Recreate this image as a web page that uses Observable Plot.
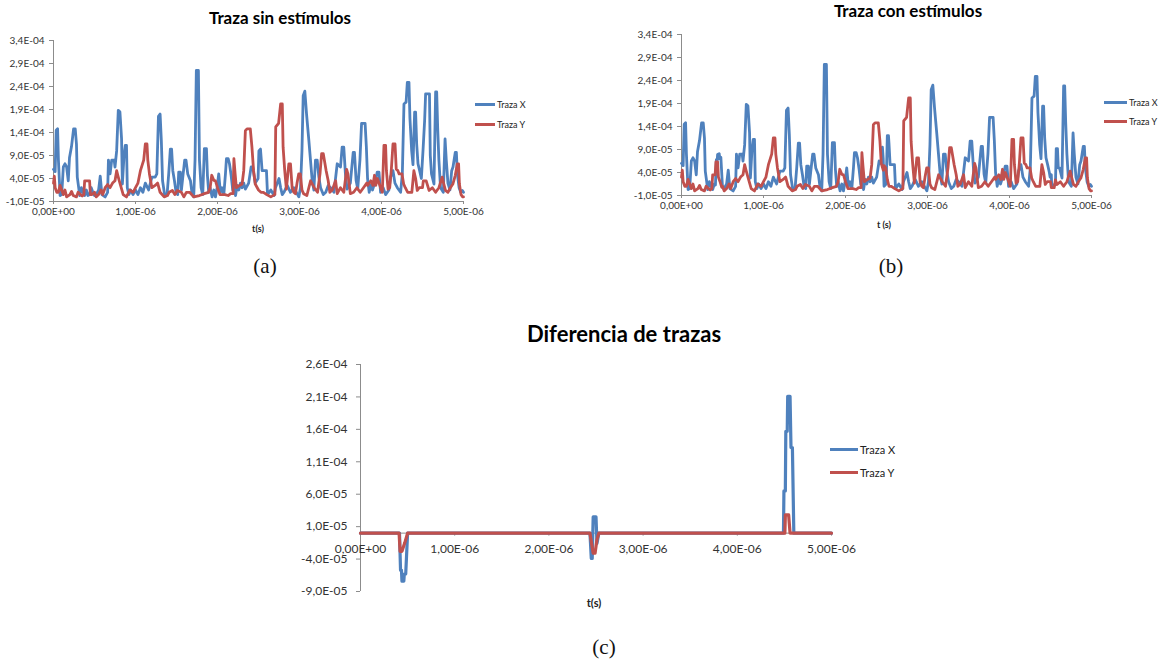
<!DOCTYPE html>
<html><head><meta charset="utf-8">
<script src="https://cdn.jsdelivr.net/npm/d3@7"></script>
<script src="https://cdn.jsdelivr.net/npm/@observablehq/plot@0.6"></script>
<style>
body{margin:0;background:#fff;}
#page{position:relative;width:1165px;height:665px;overflow:hidden;font-family:Lato,"Open Sans",sans-serif;}
.abs{position:absolute;white-space:nowrap;}
.c{transform:translate(-50%,-50%);}
.l{transform:translate(0,-50%);}
</style></head>
<body><div id="page"></div>
<script>
// time in microseconds, value in units of 1e-5
const sinX = [[0,6],[0.02,5.5],[0.033,14.5],[0.05,14.8],[0.06,8],[0.08,0.3],[0.10,0.5],[0.12,6.5],[0.14,7.2],[0.16,6.5],[0.18,3.5],[0.195,8.5],[0.22,11],[0.245,14.8],[0.265,14.8],[0.28,11.5],[0.29,4.3],[0.32,0.3],[0.34,2],[0.36,1],[0.38,0.3],[0.40,1.5],[0.42,0.3],[0.44,0.5],[0.46,2],[0.48,1],[0.50,0.3],[0.52,0.5],[0.55,1.5],[0.57,4.5],[0.59,0.5],[0.63,0],[0.66,1],[0.67,8],[0.69,5],[0.71,8],[0.74,8],[0.75,6.5],[0.77,10],[0.79,18.8],[0.81,18.5],[0.83,12.6],[0.84,2.8],[0.86,9],[0.875,11.2],[0.89,11.2],[0.90,2],[0.92,0.5],[0.94,1.5],[0.97,0.5],[1.0,1.5],[1.03,0.5],[1.06,2],[1.09,1],[1.12,3],[1.16,1.5],[1.20,4.3],[1.24,4.3],[1.26,5],[1.28,17.5],[1.30,18],[1.315,12.3],[1.33,3.5],[1.355,0.5],[1.385,0.5],[1.405,5],[1.425,10.4],[1.44,10.4],[1.455,5.7],[1.475,3.5],[1.495,1],[1.515,0.5],[1.527,5.4],[1.547,5.4],[1.56,1.5],[1.575,4],[1.60,8],[1.616,8],[1.637,5],[1.67,3.5],[1.69,0.7],[1.71,0],[1.726,8],[1.742,27.5],[1.767,27.5],[1.78,8],[1.80,2],[1.82,0.5],[1.84,10.5],[1.865,10.5],[1.877,4.7],[1.893,1],[1.91,2],[1.934,0],[1.955,1.5],[1.975,0],[1.995,2],[2.015,5],[2.035,1],[2.055,2],[2.077,0.5],[2.097,5],[2.109,8.3],[2.13,8.3],[2.146,7.2],[2.166,4.7],[2.186,1.5],[2.20,3],[2.22,0.3],[2.24,2.5],[2.26,1.5],[2.28,3],[2.30,2],[2.32,3],[2.34,1.7],[2.38,3],[2.41,6.5],[2.43,6.5],[2.46,3],[2.495,4],[2.505,10],[2.524,10.4],[2.544,5.7],[2.597,5.7],[2.61,0.5],[2.65,1.5],[2.69,0.3],[2.707,2],[2.75,4],[2.77,2],[2.79,0.5],[2.81,1],[2.85,2.5],[2.89,1],[2.93,2],[2.97,0.7],[2.992,0],[3.012,2],[3.03,10],[3.045,22],[3.065,23],[3.086,18],[3.114,12.3],[3.134,8],[3.155,3.5],[3.175,1.5],[3.195,8],[3.216,8],[3.236,4.3],[3.257,2],[3.29,0.5],[3.32,1],[3.35,2.5],[3.38,2],[3.42,1],[3.46,7.2],[3.50,6.5],[3.52,10.8],[3.54,10.8],[3.56,5],[3.58,1.7],[3.62,3],[3.655,9.7],[3.67,9.7],[3.69,3.6],[3.71,1.7],[3.737,8],[3.757,16],[3.80,16],[3.815,11],[3.83,4],[3.85,1],[3.867,2.5],[3.89,1.5],[3.908,2.5],[3.928,3.6],[3.948,5.4],[3.969,5.4],[3.989,1],[4.02,2],[4.05,0.5],[4.09,1.5],[4.11,4.3],[4.14,5.7],[4.164,3],[4.193,2],[4.233,1],[4.254,5],[4.274,20.2],[4.30,20.6],[4.315,24.9],[4.335,24.9],[4.347,17],[4.368,10],[4.384,7],[4.404,18.4],[4.416,18.4],[4.429,11.5],[4.445,7.2],[4.465,5.7],[4.486,4],[4.506,10],[4.526,16.6],[4.538,22.4],[4.585,22.4],[4.595,9],[4.61,5],[4.64,2.8],[4.66,22.8],[4.673,22.8],[4.685,15],[4.70,8],[4.72,2],[4.754,1],[4.775,12.6],[4.79,8],[4.81,3],[4.835,1.5],[4.856,5.7],[4.872,6.5],[4.90,9.7],[4.913,9.7],[4.925,5],[4.946,2],[4.966,1],[4.986,1.4],[5.0,1]];

const sinY = [[0,3],[0.01,4.5],[0.02,2],[0.04,1],[0.06,1],[0.08,2.5],[0.10,1.5],[0.12,0.5],[0.14,1.5],[0.16,0],[0.2,0.5],[0.22,1.2],[0.24,0.3],[0.28,0],[0.30,1],[0.33,0.5],[0.35,0.2],[0.37,0.5],[0.38,3.5],[0.44,3.5],[0.45,0.5],[0.47,0.5],[0.5,1],[0.52,0],[0.55,0.5],[0.58,1.5],[0.6,0.5],[0.63,2],[0.66,2.7],[0.69,2],[0.72,3],[0.75,3.5],[0.77,5.7],[0.79,4.3],[0.81,3],[0.85,0.5],[0.89,0],[0.93,1.5],[0.97,1],[1.0,2],[1.03,3],[1.06,5.7],[1.10,8],[1.12,11.5],[1.14,11.5],[1.15,8],[1.17,5],[1.2,2],[1.24,2.5],[1.27,3],[1.30,1],[1.35,0],[1.39,0.3],[1.41,1],[1.45,1.4],[1.48,0.5],[1.51,1.4],[1.56,1],[1.59,0],[1.62,1],[1.66,1],[1.71,0],[1.78,0.3],[1.84,0.7],[1.89,1],[1.91,2],[1.93,4.7],[1.955,3.6],[1.975,3.5],[2.0,2],[2.03,0.5],[2.09,0.5],[2.13,0.3],[2.16,0.7],[2.19,0.7],[2.2,8.3],[2.215,5],[2.23,2],[2.26,2.4],[2.3,2.8],[2.32,5.7],[2.34,14.4],[2.36,14.8],[2.40,14.8],[2.42,10.8],[2.44,5.7],[2.46,2.8],[2.50,1.5],[2.53,1],[2.56,1],[2.60,0.5],[2.65,0],[2.70,0.5],[2.71,15.2],[2.745,16],[2.77,20.2],[2.79,20.2],[2.80,10.8],[2.82,5.7],[2.84,1.7],[2.87,7.2],[2.89,7.2],[2.91,2],[2.93,1],[2.95,0.7],[2.97,3],[2.99,5],[3.01,5],[3.03,1.5],[3.05,0.7],[3.09,0.3],[3.135,3.5],[3.18,2],[3.22,1],[3.25,5],[3.27,9.4],[3.29,9.4],[3.305,7.8],[3.325,5.7],[3.35,3.5],[3.37,1],[3.40,1.5],[3.44,3.5],[3.46,0.7],[3.50,2],[3.54,1],[3.575,6],[3.59,5],[3.62,0.7],[3.66,1],[3.70,2],[3.74,1],[3.78,2],[3.82,3],[3.83,2.5],[3.87,3.5],[3.895,2.5],[3.915,4.7],[3.93,2.5],[3.95,4],[3.97,3],[3.99,2],[4.01,1],[4.03,11.2],[4.05,11.2],[4.06,5.7],[4.08,1.7],[4.10,2],[4.12,6],[4.14,11.5],[4.165,11.5],[4.18,6],[4.20,5.7],[4.215,5],[4.25,5],[4.27,2.8],[4.29,2],[4.32,1],[4.37,1],[4.395,5.7],[4.416,4],[4.436,1.4],[4.46,2],[4.50,2],[4.51,3.5],[4.545,3.5],[4.58,1.4],[4.62,2],[4.66,1],[4.70,2],[4.74,4.3],[4.76,2.8],[4.78,1.4],[4.81,1],[4.84,2],[4.87,2.8],[4.90,4.7],[4.925,7.2],[4.94,7.2],[4.95,2.8],[4.97,0.5],[4.99,0],[5.0,0]];

const conX = [[0,6],[0.02,5.5],[0.033,14.5],[0.05,14.8],[0.06,8],[0.08,0.3],[0.10,0.5],[0.12,6.5],[0.14,7.2],[0.16,6.5],[0.18,3.5],[0.195,8.5],[0.22,11],[0.245,14.8],[0.265,14.8],[0.28,11.5],[0.29,4.3],[0.32,0.3],[0.34,2],[0.36,1],[0.38,0.3],[0.40,1.5],[0.414,1.3],[0.425,6.8],[0.435,6.5],[0.44,7.9],[0.46,8.1],[0.465,7],[0.48,7.3],[0.50,0.8],[0.52,0.5],[0.55,1.5],[0.57,4.5],[0.59,0.5],[0.63,0],[0.66,1],[0.67,8],[0.69,5],[0.71,8],[0.74,8],[0.75,6.5],[0.77,10],[0.79,18.8],[0.81,18.5],[0.83,12.6],[0.84,2.8],[0.86,9],[0.875,11.2],[0.89,11.2],[0.90,2],[0.92,0.5],[0.94,1.5],[0.97,0.5],[1.0,1.5],[1.03,0.5],[1.06,2],[1.09,1],[1.12,3],[1.16,1.5],[1.20,4.3],[1.24,4.3],[1.26,5],[1.28,17.5],[1.30,18],[1.315,12.3],[1.33,3.5],[1.355,0.5],[1.385,0.5],[1.405,5],[1.425,10.4],[1.44,10.4],[1.455,5.7],[1.475,3.5],[1.495,1],[1.515,0.5],[1.527,5.4],[1.547,5.4],[1.56,1.5],[1.575,4],[1.60,8],[1.616,8],[1.637,5],[1.67,3.5],[1.69,0.7],[1.71,0],[1.726,8],[1.742,27.5],[1.767,27.5],[1.78,8],[1.80,2],[1.82,0.5],[1.84,10.5],[1.865,10.5],[1.877,4.7],[1.893,1],[1.91,2],[1.934,0],[1.955,1.5],[1.975,0],[1.995,2],[2.015,5],[2.035,1],[2.055,2],[2.077,0.5],[2.097,5],[2.109,8.3],[2.13,8.3],[2.146,7.2],[2.166,4.7],[2.186,1.5],[2.20,3],[2.22,0.3],[2.24,2.5],[2.26,1.5],[2.28,3],[2.30,2],[2.32,3],[2.34,1.7],[2.38,3],[2.41,6.5],[2.436,6],[2.45,9.5],[2.46,7],[2.47,1],[2.495,1.5],[2.50,4.5],[2.505,8],[2.51,12],[2.524,12],[2.53,10.4],[2.544,5.7],[2.597,5.7],[2.61,0.5],[2.65,1.5],[2.69,0.3],[2.707,2],[2.75,4],[2.77,2],[2.79,0.5],[2.81,1],[2.85,2.5],[2.89,1],[2.93,2],[2.97,0.7],[2.992,0],[3.012,2],[3.03,10],[3.045,22],[3.065,23],[3.086,18],[3.114,12.3],[3.134,8],[3.155,3.5],[3.175,1.5],[3.195,8],[3.216,8],[3.236,4.3],[3.257,2],[3.29,0.5],[3.32,1],[3.35,2.5],[3.38,2],[3.42,1],[3.46,7.2],[3.50,6.5],[3.52,10.8],[3.54,10.8],[3.56,5],[3.58,1.7],[3.62,3],[3.655,9.7],[3.67,9.7],[3.69,3.6],[3.71,1.7],[3.737,8],[3.757,16],[3.80,16],[3.815,11],[3.83,4],[3.85,1],[3.867,2.5],[3.89,1.5],[3.908,2.5],[3.928,3.6],[3.948,5.4],[3.969,5.4],[3.989,1],[4.02,2],[4.05,0.5],[4.09,1.5],[4.11,4.3],[4.14,5.7],[4.164,3],[4.193,2],[4.233,1],[4.254,5],[4.274,20.2],[4.30,20.6],[4.315,24.9],[4.335,24.9],[4.347,17],[4.368,10],[4.384,7],[4.404,18.4],[4.416,18.4],[4.429,11.5],[4.445,7.2],[4.465,5.7],[4.486,4],[4.495,3],[4.51,3.5],[4.515,1],[4.53,1],[4.535,1.3],[4.56,1.3],[4.57,9.2],[4.585,9.2],[4.595,5],[4.61,5],[4.64,2.8],[4.66,22.8],[4.673,22.8],[4.685,15],[4.70,8],[4.72,2],[4.754,1],[4.775,12.6],[4.79,8],[4.81,3],[4.835,1.5],[4.856,5.7],[4.872,6.5],[4.90,9.7],[4.913,9.7],[4.925,5],[4.946,2],[4.966,1],[4.986,1.4],[5.0,1]];

const conY = [[0,3],[0.01,4.5],[0.02,2],[0.04,1],[0.06,1],[0.08,2.5],[0.10,1.5],[0.12,0.5],[0.14,1.5],[0.16,0],[0.2,0.5],[0.22,1.2],[0.24,0.3],[0.28,0],[0.30,1],[0.33,0.5],[0.35,0.2],[0.37,0.5],[0.38,3.5],[0.41,3.5],[0.42,6.3],[0.44,6.3],[0.45,3],[0.47,2],[0.49,0.8],[0.5,1],[0.52,0],[0.55,0.5],[0.58,1.5],[0.6,0.5],[0.63,2],[0.66,2.7],[0.69,2],[0.72,3],[0.75,3.5],[0.77,5.7],[0.79,4.3],[0.81,3],[0.85,0.5],[0.89,0],[0.93,1.5],[0.97,1],[1.0,2],[1.03,3],[1.06,5.7],[1.10,8],[1.12,11.5],[1.14,11.5],[1.15,8],[1.17,5],[1.2,2],[1.24,2.5],[1.27,3],[1.30,1],[1.35,0],[1.39,0.3],[1.41,1],[1.45,1.4],[1.48,0.5],[1.51,1.4],[1.56,1],[1.59,0],[1.62,1],[1.66,1],[1.71,0],[1.78,0.3],[1.84,0.7],[1.89,1],[1.91,2],[1.93,4.7],[1.955,3.6],[1.975,3.5],[2.0,2],[2.03,0.5],[2.09,0.5],[2.13,0.3],[2.16,0.7],[2.19,0.7],[2.2,8.3],[2.215,5],[2.23,2],[2.26,2.4],[2.3,2.8],[2.32,5.7],[2.34,14.4],[2.36,14.8],[2.40,14.8],[2.42,10.8],[2.436,6],[2.46,4.5],[2.47,5.5],[2.49,5],[2.51,2.5],[2.53,1],[2.56,1],[2.60,0.5],[2.65,0],[2.70,0.5],[2.71,15.2],[2.745,16],[2.77,20.2],[2.79,20.2],[2.80,10.8],[2.82,5.7],[2.84,1.7],[2.87,7.2],[2.89,7.2],[2.91,2],[2.93,1],[2.95,0.7],[2.97,3],[2.99,5],[3.01,5],[3.03,1.5],[3.05,0.7],[3.09,0.3],[3.135,3.5],[3.18,2],[3.22,1],[3.25,5],[3.27,9.4],[3.29,9.4],[3.305,7.8],[3.325,5.7],[3.35,3.5],[3.37,1],[3.40,1.5],[3.44,3.5],[3.46,0.7],[3.50,2],[3.54,1],[3.575,6],[3.59,5],[3.62,0.7],[3.66,1],[3.70,2],[3.74,1],[3.78,2],[3.82,3],[3.83,2.5],[3.87,3.5],[3.895,2.5],[3.915,4.7],[3.93,2.5],[3.95,4],[3.97,3],[3.99,2],[4.01,1],[4.03,11.2],[4.05,11.2],[4.06,5.7],[4.08,1.7],[4.10,2],[4.12,6],[4.14,11.5],[4.165,11.5],[4.18,6],[4.20,5.7],[4.215,5],[4.25,5],[4.27,2.8],[4.29,2],[4.32,1],[4.37,1],[4.395,5.7],[4.416,4],[4.436,1.4],[4.46,2],[4.50,2],[4.51,0.7],[4.545,0.7],[4.56,2.4],[4.58,1.4],[4.62,2],[4.66,1],[4.70,2],[4.74,4.3],[4.76,2.8],[4.78,1.4],[4.81,1],[4.84,2],[4.87,2.8],[4.90,4.7],[4.925,7.2],[4.94,7.2],[4.95,2.8],[4.97,0.5],[4.99,0],[5.0,0]];

const difX = [[0,0],[0.414,0],[0.425,-5.7],[0.435,-5.7],[0.44,-7.4],[0.46,-7.4],[0.465,-6.3],[0.48,-6.3],[0.50,0],[2.436,0],[2.45,-3.9],[2.46,-3.9],[2.47,2.5],[2.50,2.5],[2.51,-1.6],[2.53,0],[4.49,0],[4.495,6.5],[4.51,6.5],[4.515,15.7],[4.53,15.7],[4.535,21.1],[4.56,21.1],[4.57,13.2],[4.585,13.2],[4.60,0],[5,0]];
const difY = [[0,0],[0.41,0],[0.42,-2.8],[0.44,-2.8],[0.47,-1.5],[0.50,0],[2.436,0],[2.47,-3.1],[2.49,-3.1],[2.51,-1],[2.53,0],[4.505,0],[4.51,2.8],[4.545,2.8],[4.56,0],[5,0]];

const xTicks = [0, 1e-6, 2e-6, 3e-6, 4e-6, 5e-6];
const yTicksTop = [-1e-5, 4e-5, 9e-5, 1.4e-4, 1.9e-4, 2.4e-4, 2.9e-4, 3.4e-4];
const yTicksDiff = [-9e-5, -4e-5, 1e-5, 6e-5, 1.1e-4, 1.6e-4, 2.1e-4, 2.6e-4];
const seriesNames = ["Traza X", "Traza Y"];
const colors = ["#4F81BD", "#C0504D"];

const rows = arr => arr.map(([t, v]) => ({t: t * 1e-6, v: v * 1e-5}));

function sci(d, digits) {
  const s = d.toExponential(digits);
  const [m, e] = s.split("e");
  const en = +e;
  return m.replace(".", ",") + "E" + (en < 0 ? "-" : "+") + String(Math.abs(en)).padStart(2, "0");
}

const page = document.getElementById("page");
function addText(txt, x, y, css, cls = "c") {
  const d = document.createElement("div");
  d.className = "abs " + cls;
  d.style.left = x + "px"; d.style.top = y + "px";
  d.style.cssText += css;
  d.textContent = txt;
  page.appendChild(d);
}
function addLegend(x, y, len, gap, fontSize) {
  seriesNames.forEach((n, i) => {
    const yy = y + i * gap;
    const ln = document.createElement("div");
    ln.className = "abs";
    ln.style.cssText = `left:${x}px;top:${yy - 1.5}px;width:${len}px;height:3px;background:${colors[i]};`;
    page.appendChild(ln);
    addText(n, x + len + 2, yy, `font-size:${fontSize}px;color:#222;`, "l");
  });
}
function place(svg, left, top) {
  svg.style.position = "absolute";
  svg.style.left = left + "px";
  svg.style.top = top + "px";
  svg.style.overflow = "visible";
  page.appendChild(svg);
}

function traceChart(dx, dy) {
  return Plot.plot({
    width: 500, height: 200,
    marginLeft: 53, marginRight: 37, marginTop: 15, marginBottom: 24,
    style: {fontFamily: "Lato, 'Open Sans', sans-serif", fontSize: "10px", color: "#333", background: "transparent", overflow: "visible"},
    x: {domain: [0, 5e-6], label: null},
    y: {domain: [-1e-5, 3.4e-4], label: null},
    marks: [
      Plot.ruleX([0], {stroke: "#8c8c8c"}),
      Plot.ruleY([-1e-5], {stroke: "#8c8c8c"}),
      Plot.axisY({ticks: yTicksTop, tickFormat: d => sci(d, 1), tickSize: 4, tickPadding: 5, stroke: "#8c8c8c", label: null}),
      Plot.axisX({ticks: xTicks, tickFormat: d => sci(d, 2), tickSize: 3, tickPadding: 3, stroke: "#8c8c8c", label: null}),
      Plot.line(rows(dx), {x: "t", y: "v", stroke: colors[0], strokeWidth: 2.8, strokeLinejoin: "round"}),
      Plot.line(rows(dy), {x: "t", y: "v", stroke: colors[1], strokeWidth: 2.8, strokeLinejoin: "round"})
    ]
  });
}

// (a)
place(traceChart(sinX, sinY), 0, 25);
addText("Traza sin estímulos", 280, 17, "font-size:17px;font-weight:bold;color:#000;");
addText("t(s)", 258, 228, "font-size:9px;font-weight:bold;color:#222;");
addLegend(475, 104, 20, 20, 9);
addText("(a)", 265, 266, "font-family:'Liberation Serif',serif;font-size:21px;color:#111;");

// (b)
place(traceChart(conX, conY), 628, 19);
addText("Traza con estímulos", 908, 10, "font-size:17px;font-weight:bold;color:#000;");
addText("t (s)", 884, 224, "font-size:9px;font-weight:bold;color:#222;");
addLegend(1104, 102, 23, 19, 9);
addText("(b)", 891, 266, "font-family:'Liberation Serif',serif;font-size:21px;color:#111;");

// (c)
function diffChart(axisDy) {
  return Plot.plot({
    width: 571, height: 260,
    marginLeft: 60, marginRight: 40, marginTop: 14, marginBottom: 19,
    style: {fontFamily: "Lato, 'Open Sans', sans-serif", fontSize: "12px", color: "#333", background: "transparent", overflow: "visible"},
    x: {domain: [0, 5e-6], label: null},
    y: {domain: [-9e-5, 2.6e-4], label: null},
    marks: [
      Plot.ruleX([0], {stroke: "#8c8c8c"}),
      Plot.ruleY([0], {stroke: "#8c8c8c"}),
      Plot.axisY({ticks: yTicksDiff, tickFormat: d => sci(d, 1), tickSize: 4, tickPadding: 9, stroke: "#8c8c8c", label: null}),
      Plot.axisX({ticks: xTicks, tickFormat: d => sci(d, 2), tickSize: 3, tickPadding: 8, stroke: "#8c8c8c", label: null, dy: axisDy}),
      Plot.line(rows(difX), {x: "t", y: "v", stroke: colors[0], strokeWidth: 3.2, strokeLinejoin: "round"}),
      Plot.line(rows(difY), {x: "t", y: "v", stroke: colors[1], strokeWidth: 3.2, strokeLinejoin: "round"})
    ]
  });
}
const probe = diffChart(0);
const ys = probe.scale("y");
const axisDy = ys.apply(0) - ys.range[0];
place(diffChart(axisDy), 300, 350);
addText("Diferencia de trazas", 624, 333, "font-size:22px;font-weight:bold;color:#000;");
addText("t(s)", 594, 602, "font-size:11px;font-weight:bold;color:#222;");
addLegend(830, 449, 28, 23, 11);
addText("(c)", 604, 647, "font-family:'Liberation Serif',serif;font-size:21px;color:#111;");
</script>
</body></html>
